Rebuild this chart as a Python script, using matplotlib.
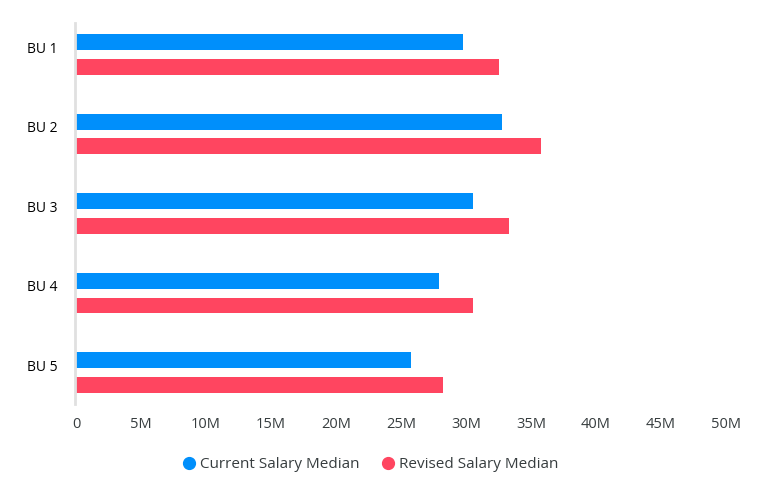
import matplotlib
matplotlib.use("Agg")
import matplotlib.pyplot as plt
from matplotlib.lines import Line2D
import numpy as np

categories = ["BU 1", "BU 2", "BU 3", "BU 4", "BU 5"]
current = [29.75, 32.8, 30.5, 27.9, 25.8]   # millions
revised = [32.5, 35.8, 33.3, 30.5, 28.2]    # millions
tick_values = [0, 5, 10, 15, 20, 25, 30, 35, 40, 45, 50]
tick_labels = ["0", "5M", "10M", "15M", "20M", "25M", "30M", "35M", "40M", "45M", "50M"]
series_names = ["Current Salary Median", "Revised Salary Median"]
colors = ["#008FFB", "#FF4560"]

plt.rcParams["font.family"] = ["Open Sans", "DejaVu Sans"]
text_color = "#373d3f"

W, H = 769, 496
fig = plt.figure(figsize=(W / 100, H / 100), dpi=100)
ax = fig.add_axes([76 / W, 1 - 404 / H, (726 - 76) / W, (404 - 23) / H])

y = np.arange(len(categories))
bh = 0.2
off = 0.155
ax.barh(y - off, current, height=bh, color=colors[0], edgecolor="none")
ax.barh(y + off, revised, height=bh, color=colors[1], edgecolor="none")

ax.set_xlim(0, 50)
ax.set_ylim(4.392, -0.393)

ax.set_xticks(tick_values)
ax.set_xticklabels(tick_labels, fontsize=10.5, color=text_color)
ax.set_yticks(y - 0.09)
ax.set_yticklabels(categories, fontsize=10.6, color=text_color)
ax.tick_params(axis="x", length=0, pad=9)
ax.tick_params(axis="y", length=0, pad=12.5)

for s in ["top", "right", "bottom"]:
    ax.spines[s].set_visible(False)
ax.spines["left"].set_color("#e0e0e0")
ax.spines["left"].set_linewidth(2)
ax.spines["left"].set_position(("outward", 1))

handles = [Line2D([0], [0], marker="o", color="none", markerfacecolor=c,
                  markeredgecolor=c, markersize=8.5) for c in colors]
fig.legend(handles, series_names, loc="center", bbox_to_anchor=(370 / W, 1 - 465 / H),
           ncol=2, frameon=False, fontsize=11, labelcolor=text_color,
           handletextpad=0.2, columnspacing=1.4, handlelength=1.0)

fig.savefig("out.png", dpi=100, facecolor="white")
